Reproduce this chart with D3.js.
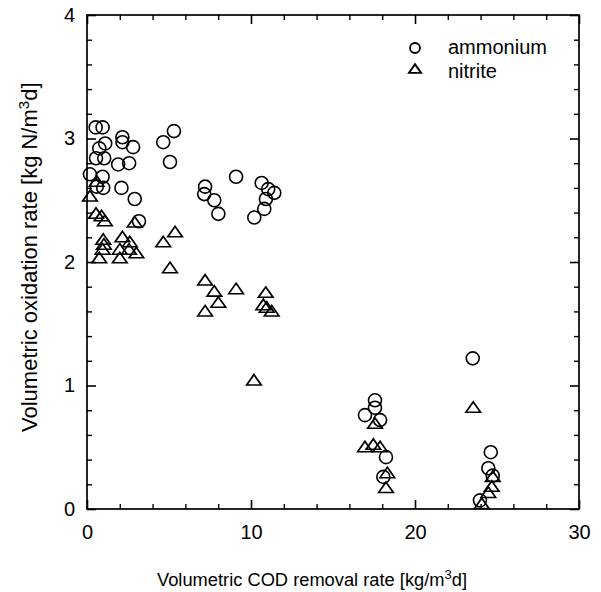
<!DOCTYPE html>
<html>
<head>
<meta charset="utf-8">
<script src="https://cdn.jsdelivr.net/npm/d3@7"></script>
<style>
  html, body { margin: 0; padding: 0; background: #fff; }
  svg { display: block; font-family: "Liberation Sans", Arial, Helvetica, sans-serif; }
</style>
</head>
<body>
<svg id="chart" width="601" height="592"></svg>
<script>
// ammonium oxidation rate vs COD removal rate
const ammoniumX = [0.53, 0.95, 0.75, 1.11, 0.55, 1.05, 0.18, 0.95, 0.59, 0.99,
  2.16, 2.16, 2.81, 1.90, 2.57, 2.10, 2.91, 3.17, 4.65, 5.30, 5.06,
  7.20, 7.15, 7.76, 8.01, 9.09, 10.65, 11.05, 11.42, 10.91, 10.81, 10.20,
  17.56, 17.56, 16.95, 17.87, 18.23, 18.07, 23.52, 24.62, 24.47, 24.74, 23.96];
const ammoniumY = [3.09, 3.09, 2.92, 2.96, 2.84, 2.84, 2.71, 2.69, 2.61, 2.60,
  3.01, 2.97, 2.93, 2.79, 2.80, 2.60, 2.51, 2.33, 2.97, 3.06, 2.81,
  2.61, 2.55, 2.50, 2.39, 2.69, 2.64, 2.59, 2.56, 2.51, 2.43, 2.36,
  0.88, 0.82, 0.76, 0.72, 0.42, 0.26, 1.22, 0.46, 0.33, 0.27, 0.07];

// nitrite oxidation rate vs COD removal rate
const nitriteX = [0.59, 0.18, 0.55, 0.89, 1.09, 0.99, 1.03, 0.95, 0.75,
  2.91, 2.16, 2.61, 2.00, 2.56, 3.01, 2.00, 4.65, 5.37, 5.06,
  7.20, 7.76, 9.09, 10.90, 7.20, 8.01, 10.75, 10.96, 11.26, 10.18,
  17.56, 16.95, 17.46, 17.87, 18.31, 18.23, 23.55, 24.74, 24.68, 24.47, 24.07];
const nitriteY = [2.65, 2.53, 2.39, 2.37, 2.33, 2.18, 2.14, 2.10, 2.03,
  2.32, 2.20, 2.16, 2.10, 2.10, 2.07, 2.03, 2.16, 2.24, 1.95,
  1.85, 1.76, 1.78, 1.75, 1.60, 1.67, 1.65, 1.63, 1.60, 1.04,
  0.69, 0.50, 0.52, 0.50, 0.29, 0.17, 0.82, 0.26, 0.18, 0.13, 0.04];

const xMajorTicks = [0, 10, 20, 30];
const xMinorTicks = [2, 4, 6, 8, 12, 14, 16, 18, 22, 24, 26, 28];
const yMajorTicks = [0, 1, 2, 3, 4];
const yMinorTicks = [0.2, 0.4, 0.6, 0.8, 1.2, 1.4, 1.6, 1.8, 2.2, 2.4, 2.6, 2.8, 3.2, 3.4, 3.6, 3.8];
const seriesNames = ["ammonium", "nitrite"];

const svg = d3.select("#chart");
const L = 87, R = 579, T = 15, B = 509;
const x = d3.scaleLinear().domain([0, 30]).range([L, R]);
const y = d3.scaleLinear().domain([0, 4]).range([B, T]);

const majorLen = 9, minorLen = 5;
const tickFont = 20;

// bottom axis (ticks inward)
svg.append("g").attr("transform", `translate(0,${B})`)
  .call(d3.axisBottom(x).tickValues(xMajorTicks).tickSize(-majorLen).tickPadding(16).tickFormat(d3.format("d")))
  .call(g => g.select(".domain").remove())
  .call(g => g.selectAll("text").attr("font-size", tickFont).attr("fill", "#000").attr("font-family", "Liberation Sans, Arial, sans-serif"))
  .call(g => g.selectAll("line").attr("stroke-width", 1.6));
svg.append("g").attr("transform", `translate(0,${B})`)
  .call(d3.axisBottom(x).tickValues(xMinorTicks).tickSize(-minorLen).tickFormat(""))
  .call(g => g.select(".domain").remove())
  .call(g => g.selectAll("line").attr("stroke-width", 1.4));
// top axis
svg.append("g").attr("transform", `translate(0,${T})`)
  .call(d3.axisTop(x).tickValues(xMajorTicks).tickSize(-majorLen).tickFormat(""))
  .call(g => g.select(".domain").remove())
  .call(g => g.selectAll("line").attr("stroke-width", 1.6));
svg.append("g").attr("transform", `translate(0,${T})`)
  .call(d3.axisTop(x).tickValues(xMinorTicks).tickSize(-minorLen).tickFormat(""))
  .call(g => g.select(".domain").remove())
  .call(g => g.selectAll("line").attr("stroke-width", 1.4));
// left axis
svg.append("g").attr("transform", `translate(${L},0)`)
  .call(d3.axisLeft(y).tickValues(yMajorTicks).tickSize(-majorLen).tickPadding(12).tickFormat(d3.format("d")))
  .call(g => g.select(".domain").remove())
  .call(g => g.selectAll("text").attr("font-size", tickFont).attr("fill", "#000").attr("font-family", "Liberation Sans, Arial, sans-serif"))
  .call(g => g.selectAll("line").attr("stroke-width", 1.6));
svg.append("g").attr("transform", `translate(${L},0)`)
  .call(d3.axisLeft(y).tickValues(yMinorTicks).tickSize(-minorLen).tickFormat(""))
  .call(g => g.select(".domain").remove())
  .call(g => g.selectAll("line").attr("stroke-width", 1.4));
// right axis
svg.append("g").attr("transform", `translate(${R},0)`)
  .call(d3.axisRight(y).tickValues(yMajorTicks).tickSize(-majorLen).tickFormat(""))
  .call(g => g.select(".domain").remove())
  .call(g => g.selectAll("line").attr("stroke-width", 1.6));
svg.append("g").attr("transform", `translate(${R},0)`)
  .call(d3.axisRight(y).tickValues(yMinorTicks).tickSize(-minorLen).tickFormat(""))
  .call(g => g.select(".domain").remove())
  .call(g => g.selectAll("line").attr("stroke-width", 1.4));

// frame
svg.append("rect").attr("x", L).attr("y", T).attr("width", R - L).attr("height", B - T)
  .attr("fill", "none").attr("stroke", "#000").attr("stroke-width", 1.7);

// markers
const circleR = 6.5;
const triSym = d3.symbol().type(d3.symbolTriangle).size(70);

const ammData = ammoniumX.map((v, i) => [v, ammoniumY[i]]);
const nitData = nitriteX.map((v, i) => [v, nitriteY[i]]);

svg.append("g").selectAll("circle").data(ammData).join("circle")
  .attr("cx", d => x(d[0])).attr("cy", d => y(d[1])).attr("r", circleR)
  .attr("fill", "none").attr("stroke", "#000").attr("stroke-width", 1.6);

svg.append("g").selectAll("path").data(nitData).join("path")
  .attr("d", triSym)
  .attr("transform", d => `translate(${x(d[0])},${y(d[1]) + 1}) scale(1.15,0.95)`)
  .attr("fill", "none").attr("stroke", "#000").attr("stroke-width", 1.6).attr("stroke-linejoin", "miter");

// legend
const leg = svg.append("g");
leg.append("circle").attr("cx", 415).attr("cy", 48).attr("r", 5)
  .attr("fill", "none").attr("stroke", "#000").attr("stroke-width", 1.8);
leg.append("path").attr("d", d3.symbol().type(d3.symbolTriangle).size(48))
  .attr("transform", "translate(415,70) scale(1.15,0.95)")
  .attr("fill", "none").attr("stroke", "#000").attr("stroke-width", 1.8);
leg.append("text").attr("x", 448).attr("y", 54).attr("font-size", 20).text(seriesNames[0]);
leg.append("text").attr("x", 448).attr("y", 78).attr("font-size", 20).text(seriesNames[1]);

// axis titles
const xt = svg.append("text").attr("x", 157).attr("y", 586).attr("font-size", 18.3).attr("text-anchor", "start");
xt.append("tspan").text("Volumetric COD removal rate [kg/m");
xt.append("tspan").attr("dy", -7).attr("font-size", 13).text("3");
xt.append("tspan").attr("dy", 7).text("d]");

const yt = svg.append("text").attr("transform", "translate(37,432) rotate(-90)")
  .attr("font-size", 22).attr("text-anchor", "start");
yt.append("tspan").text("Volumetric oxidation rate [kg N/m");
yt.append("tspan").attr("dy", -8).attr("font-size", 15).text("3");
yt.append("tspan").attr("dy", 8).text("d]");
</script>
</body>
</html>
